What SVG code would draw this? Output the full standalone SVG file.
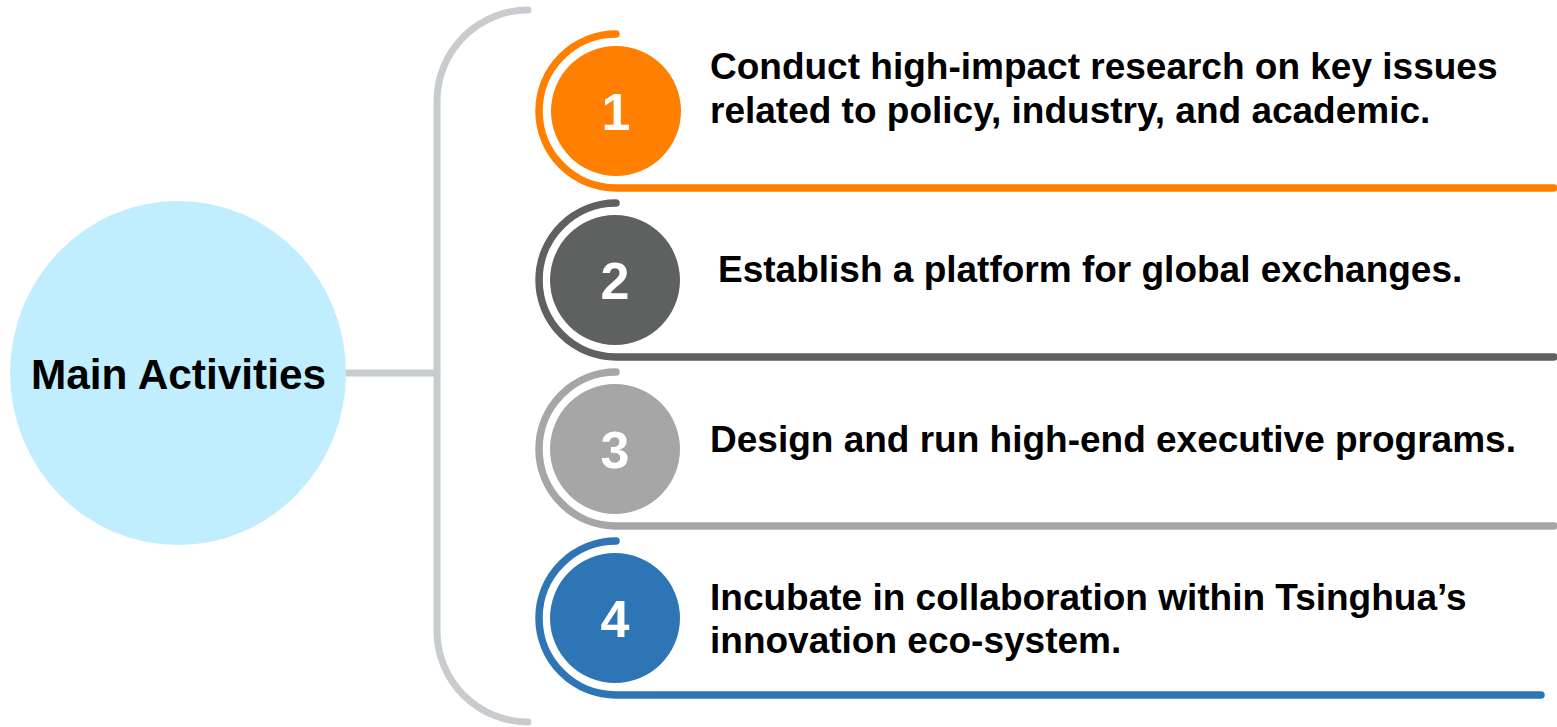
<svg xmlns="http://www.w3.org/2000/svg" width="1557" height="727" viewBox="0 0 1557 727">
<style>
.lbl{font-family:"Liberation Sans",Arial,sans-serif;font-weight:bold;font-size:37px;fill:#000}
.num{font-family:"Liberation Sans",Arial,sans-serif;font-weight:bold;font-size:52px;fill:#fff;text-anchor:middle}
.rib{fill:none;stroke-width:7.5;stroke-linecap:round}
.conn{fill:none;stroke:#c9cccf;stroke-width:7;stroke-linecap:round}
</style>
<rect width="1557" height="727" fill="#fff"/>
<g id="connectors">
<path class="conn" d="M528 10 A91 91 0 0 0 437 101 L437 631 A91 91 0 0 0 528 722"/>
<path class="conn" d="M345 373 L437 373"/>
</g>
<g id="main">
<ellipse cx="178" cy="373" rx="168" ry="172" fill="#c1eefe"/>
<text class="lbl" x="178.5" y="389" text-anchor="middle" style="font-size:42.4px">Main Activities</text>
</g>
<g id="item1">
<path class="rib" stroke="#ff8000" d="M616 34 A77 77 0 0 0 616 188 L1554 188"/>
<circle cx="616" cy="111" r="65" fill="#ff8000"/>
<text class="num" x="616" y="130">1</text>
<text class="lbl" x="710" y="79">Conduct high-impact research on key issues</text>
<text class="lbl" x="710" y="123">related to policy, industry, and academic.</text>
</g>
<g id="item2">
<path class="rib" stroke="#5f6060" d="M616 203 A77 77 0 0 0 616 357 L1554 357"/>
<circle cx="615" cy="280" r="65" fill="#5f6060"/>
<text class="num" x="615" y="299">2</text>
<text class="lbl" x="718" y="282">Establish a platform for global exchanges.</text>
</g>
<g id="item3">
<path class="rib" stroke="#a6a6a6" d="M616 372 A77 77 0 0 0 616 526 L1554 526"/>
<circle cx="615" cy="449" r="65" fill="#a6a6a6"/>
<text class="num" x="615" y="468">3</text>
<text class="lbl" x="710" y="452">Design and run high-end executive programs.</text>
</g>
<g id="item4">
<path class="rib" stroke="#2e75b6" d="M616 541 A77 77 0 0 0 616 695 L1541 695"/>
<circle cx="615" cy="618" r="65" fill="#2e75b6"/>
<text class="num" x="615" y="637">4</text>
<text class="lbl" x="710" y="610">Incubate in collaboration within Tsinghua’s</text>
<text class="lbl" x="710" y="653">innovation eco-system.</text>
</g>
</svg>
